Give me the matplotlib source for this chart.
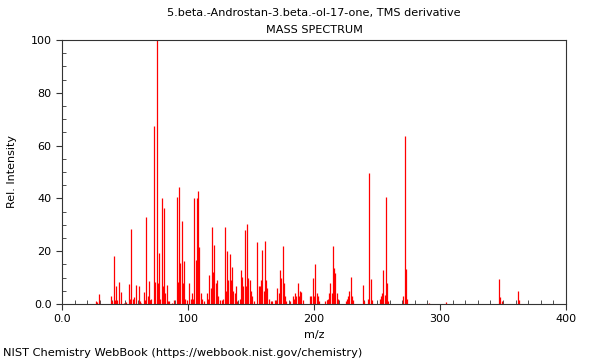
import matplotlib
matplotlib.use("Agg")
import matplotlib.pyplot as plt
from matplotlib.ticker import MultipleLocator, FixedLocator, FixedFormatter

title = "5.beta.-Androstan-3.beta.-ol-17-one, TMS derivative"
subtitle = "MASS SPECTRUM"
footer = "NIST Chemistry WebBook (https://webbook.nist.gov/chemistry)"

mz = [27, 28, 29, 39, 40, 41, 42, 43, 44, 45, 47, 49, 51, 53, 54, 55, 56, 57, 59, 61,
      62, 63, 65, 66, 67, 68, 69, 70, 71, 73, 74, 75, 76, 77, 78, 79, 80, 81, 82, 83,
      84, 85, 87, 89, 91, 92, 93, 94, 95, 96, 97, 98, 99, 101, 102, 103, 104, 105, 106, 107,
      108, 109, 110, 111, 113, 115, 116, 117, 118, 119, 120, 121, 122, 123, 124, 125, 127, 128, 129, 130,
      131, 132, 133, 134, 135, 136, 137, 138, 139, 141, 142, 143, 144, 145, 146, 147, 148, 149, 150, 151,
      152, 155, 156, 157, 158, 159, 160, 161, 162, 163, 164, 166, 167, 169, 170, 171, 172, 173, 174, 175,
      176, 177, 178, 181, 183, 184, 185, 186, 187, 188, 189, 190, 191, 197, 198, 199, 200, 201, 202, 203,
      204, 209, 210, 211, 212, 213, 214, 215, 216, 217, 218, 219, 225, 226, 227, 228, 229, 230, 231, 239,
      240, 243, 244, 245, 246, 252, 253, 254, 255, 256, 257, 258, 259, 271, 272, 273, 274, 291, 305, 347,
      348, 349, 362, 363]
intensity = [1.0, 0.8, 3.7, 3.0, 1.0, 18.0, 1.5, 6.8, 1.5, 8.5, 4.4, 0.5, 0.6, 7.7, 2.0, 28.3, 2.0, 2.5, 7.1, 7.0,
             1.0, 0.5, 4.4, 1.5, 33.0, 3.0, 8.7, 1.5, 2.0, 67.4, 8.3, 100.0, 8.0, 19.4, 2.0, 40.0, 6.8, 36.2, 4.0, 7.2,
             1.0, 1.0, 0.5, 1.5, 40.4, 8.3, 44.4, 15.4, 31.4, 8.0, 16.3, 2.0, 1.5, 7.8, 2.0, 4.0, 2.0, 40.0, 16.7, 40.0,
             42.7, 21.7, 4.0, 2.0, 1.0, 4.0, 2.0, 11.0, 6.0, 29.0, 12.0, 22.3, 8.0, 9.0, 3.0, 1.5, 1.5, 2.0, 29.0, 5.0,
             20.0, 9.0, 18.8, 9.0, 13.9, 5.0, 4.0, 7.0, 1.0, 2.0, 13.0, 10.4, 7.0, 28.0, 7.0, 30.3, 10.0, 9.0, 5.0, 3.0,
             1.0, 23.5, 7.0, 7.0, 9.0, 20.5, 5.0, 23.9, 9.0, 6.0, 2.0, 1.0, 1.0, 1.5, 1.0, 6.0, 4.0, 12.9, 10.0, 22.0,
             8.0, 3.0, 1.0, 1.0, 3.0, 2.0, 4.0, 3.0, 7.8, 3.0, 4.9, 4.5, 1.5, 3.0, 3.0, 9.7, 3.0, 15.0, 4.0, 3.0,
             1.0, 1.0, 1.5, 2.0, 4.0, 8.1, 4.0, 22.0, 13.5, 11.9, 4.0, 2.0, 1.0, 2.0, 3.0, 5.0, 10.4, 3.0, 1.5, 7.2,
             1.0, 2.0, 49.7, 9.5, 1.5, 2.0, 3.0, 4.0, 12.9, 3.5, 40.7, 8.1, 1.0, 3.0, 63.8, 13.1, 2.0, 0.5, 0.6, 9.6,
             2.5, 1.0, 5.0, 1.5]

x_ticks = [0, 100, 200, 300, 400]
x_labels = ["0.0", "100", "200", "300", "400"]
y_ticks = [0, 20, 40, 60, 80, 100]
y_labels = ["0.0", "20", "40", "60", "80", "100"]

fig = plt.figure(figsize=(6, 3.6), dpi=100)
ax = fig.add_axes([62/600, 56/360, 504/600, 264/360])
ax.vlines(mz, 0, intensity, colors="#ff0000", linewidth=0.9)
ax.set_xlim(0, 400)
ax.set_ylim(0, 100)
ax.xaxis.set_major_locator(FixedLocator(x_ticks))
ax.xaxis.set_major_formatter(FixedFormatter(x_labels))
ax.yaxis.set_major_locator(FixedLocator(y_ticks))
ax.yaxis.set_major_formatter(FixedFormatter(y_labels))
ax.xaxis.set_minor_locator(MultipleLocator(10))
ax.yaxis.set_minor_locator(MultipleLocator(5))
ax.tick_params(which="major", direction="out", length=4, width=0.8, labelsize=8, colors="#333333", labelcolor="black")
ax.tick_params(which="minor", direction="in", length=3, width=0.6, colors="#333333")
for s in ax.spines.values():
    s.set_color("#333333")
    s.set_linewidth(0.8)
ax.set_xlabel("m/z", fontsize=8, labelpad=4)
ax.set_ylabel("Rel. Intensity", fontsize=8, labelpad=10)
fig.text(314/600, 1 - 13/360, title, ha="center", va="center", fontsize=8.1)
fig.text(314/600, 1 - 30/360, subtitle, ha="center", va="center", fontsize=8.1)
fig.text(3/600, 1 - 353/360, footer, ha="left", va="center", fontsize=8.2)
fig.savefig("out.png", dpi=100)
